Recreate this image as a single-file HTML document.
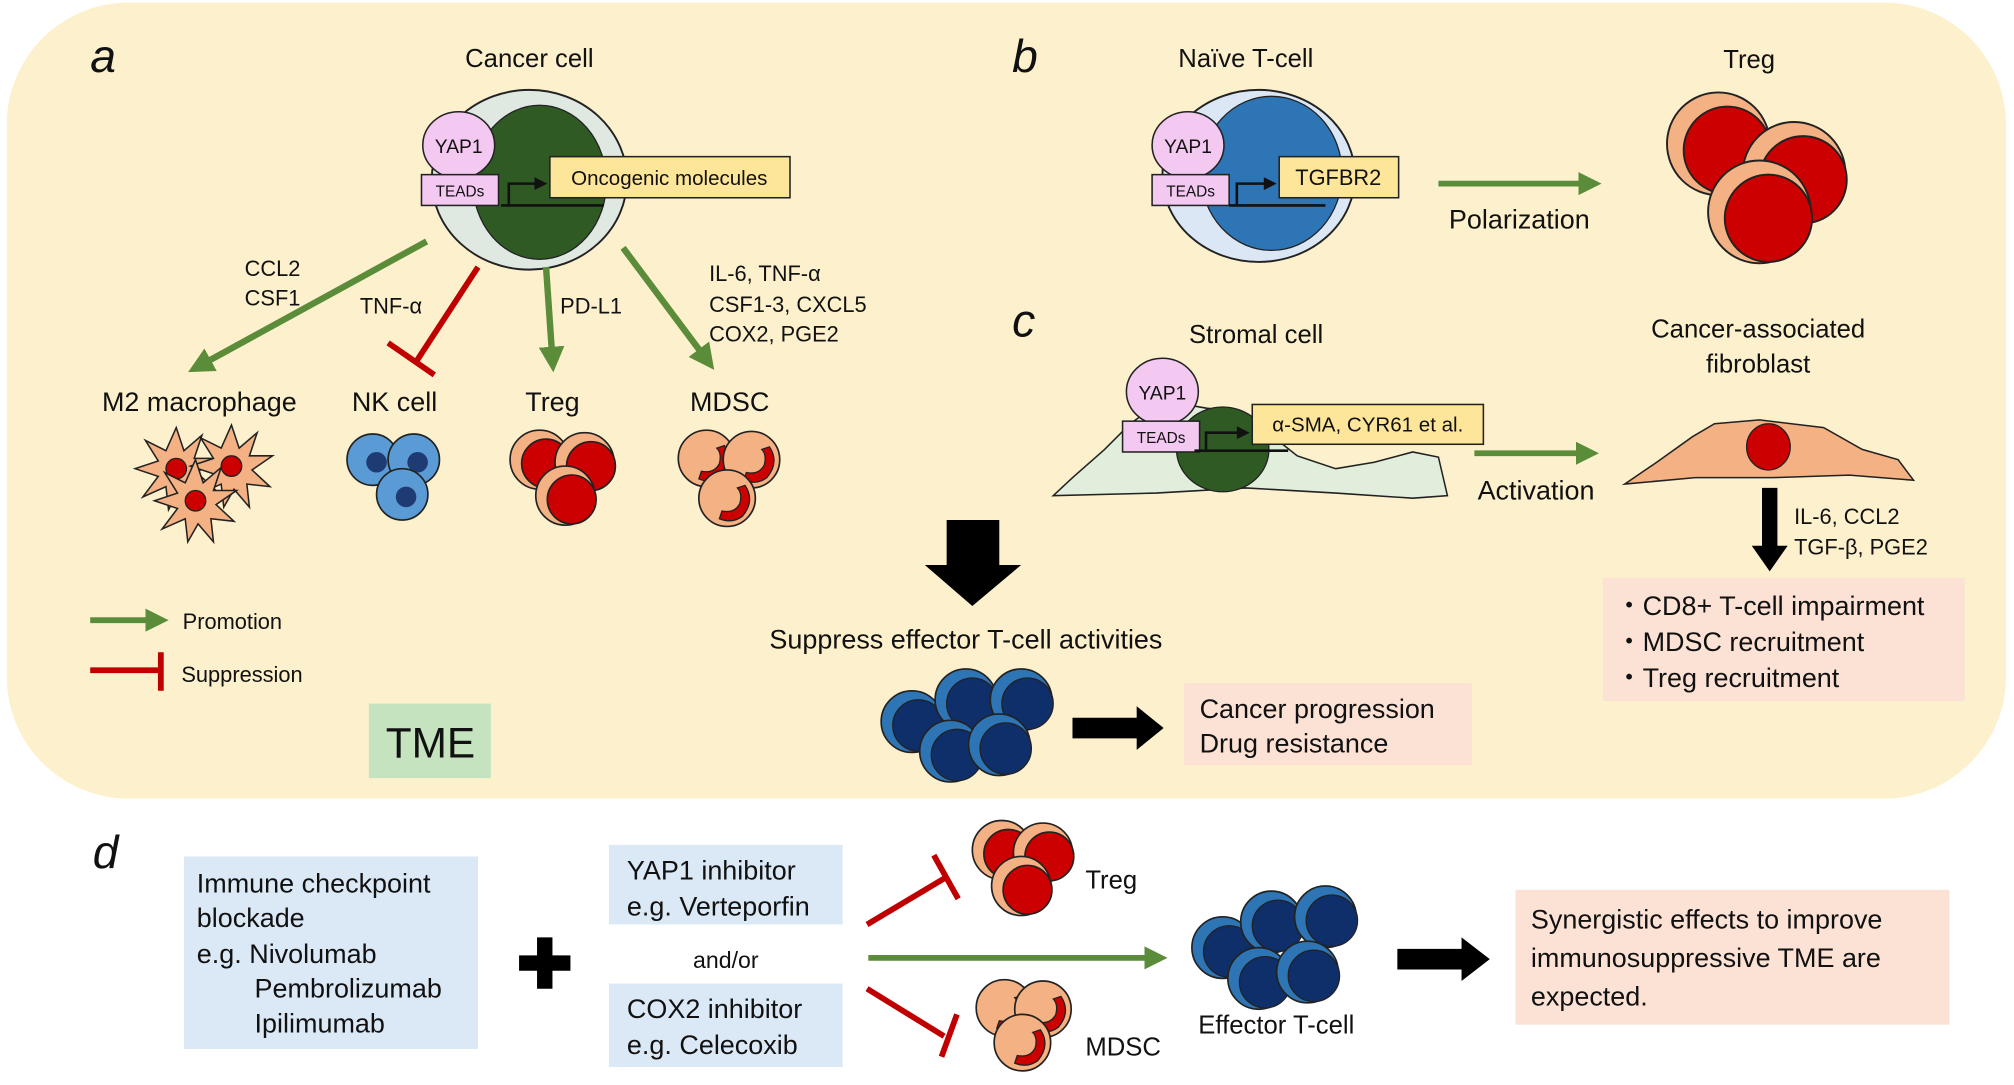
<!DOCTYPE html>
<html><head><meta charset="utf-8"><style>
html,body{margin:0;padding:0;background:#fff}
svg{display:block}
text{font-family:"Liberation Sans Narrow","Liberation Sans",sans-serif;fill:#111}
</style></head><body>
<svg width="2014" height="1085" viewBox="0 0 1568 845" xmlns="http://www.w3.org/2000/svg">
<defs>
<marker id="ga" markerWidth="4" markerHeight="4" refX="2" refY="2" orient="auto" markerUnits="strokeWidth"><path d="M0,0 L4,2 L0,4 Z" fill="#5b8c3a"/></marker>
<g id="treg"><circle r="23" fill="#f4b183" stroke="#222" stroke-width="1.3"/><circle cx="5" cy="3" r="19" fill="#cc0000" stroke="#222" stroke-width="1.3"/></g>
<g id="treg2"><circle r="40" fill="#f4b183" stroke="#222" stroke-width="1.5"/><circle cx="7" cy="5" r="34" fill="#cc0000" stroke="#222" stroke-width="1.5"/></g>
<g id="mdsc"><circle r="22" fill="#f4b183" stroke="#222" stroke-width="1.3"/><path d="M14,-10 Q22,2 12,14 Q4,20 -6,16 L-4,10 Q6,12 10,4 Q12,-4 8,-8 Z" fill="#cc0000" stroke="#222" stroke-width="1"/></g>
<g id="nk"><circle r="20" fill="#5b9bd5" stroke="#222" stroke-width="1.3"/><circle cx="3" cy="2" r="8" fill="#1f3b73"/></g>
<g id="eff"><circle r="24" fill="#2e75b6" stroke="#222" stroke-width="1.3"/><circle cx="5" cy="3" r="20" fill="#0f2f6b" stroke="#222" stroke-width="1"/></g>
<g id="mac"><polygon points="0,-32 6,-14 20,-26 14,-8 32,-8 16,3 30,16 12,14 14,32 2,18 -6,32 -8,14 -26,22 -14,6 -32,0 -14,-6 -24,-22 -8,-14" fill="#f4b183" stroke="#222" stroke-width="1.2"/><circle r="8" fill="#cc0000" stroke="#222" stroke-width="1"/></g>
</defs>
<rect x="5" y="2" width="1557" height="620" rx="95" fill="#fdf0cc"/>

<!-- panel a -->
<text x="70" y="56" font-size="36" font-style="italic" font-family="Liberation Sans">a</text>
<text x="412" y="52" font-size="20" text-anchor="middle">Cancer cell</text>
<ellipse cx="412" cy="140" rx="76" ry="70" fill="#dfe9e1" stroke="#222" stroke-width="1.5"/>
<ellipse cx="420" cy="142" rx="52" ry="60" fill="#2f5a24" stroke="#222" stroke-width="1"/>
<ellipse cx="357" cy="113" rx="28" ry="26" fill="#f3c8f1" stroke="#222" stroke-width="1.2"/>
<text x="357" y="119" font-size="15" text-anchor="middle">YAP1</text>
<rect x="328" y="136" width="60" height="24" fill="#f3c8f1" stroke="#222" stroke-width="1.2"/>
<text x="358" y="153" font-size="12" text-anchor="middle">TEADs</text>
<path d="M390,160 H470 M396,160 V143 H418" stroke="#111" stroke-width="2" fill="none"/>
<path d="M416,138 L426,143 L416,148 Z" fill="#111"/>
<rect x="428" y="122" width="187" height="32" fill="#fde699" stroke="#222" stroke-width="1.2"/>
<text x="521" y="144" font-size="16" text-anchor="middle">Oncogenic molecules</text>

<g stroke="#5b8c3a" stroke-width="5" fill="none">
<line x1="332" y1="188" x2="155" y2="285" marker-end="url(#ga)"/>
<line x1="425" y1="208" x2="430" y2="280" marker-end="url(#ga)"/>
<line x1="485" y1="193" x2="550" y2="280" marker-end="url(#ga)"/>
</g>
<g stroke="#c00000" stroke-width="4.5">
<line x1="372" y1="208" x2="323" y2="283"/>
<line x1="302" y1="267" x2="338" y2="292"/>
</g>
<g font-size="17">
<text x="212" y="215" text-anchor="middle">CCL2</text>
<text x="212" y="238" text-anchor="middle">CSF1</text>
<text x="280" y="244">TNF-α</text>
<text x="436" y="244">PD-L1</text>
<text x="552" y="219">IL-6, TNF-α</text>
<text x="552" y="243">CSF1-3, CXCL5</text>
<text x="552" y="266">COX2, PGE2</text>
</g>
<g font-size="21" text-anchor="middle">
<text x="155" y="320">M2 macrophage</text>
<text x="307" y="320">NK cell</text>
<text x="430" y="320">Treg</text>
<text x="568" y="320">MDSC</text>
</g>
<use href="#mac" x="137" y="365"/><use href="#mac" x="180" y="363"/><use href="#mac" x="152" y="390"/>
<use href="#nk" x="290" y="358"/><use href="#nk" x="322" y="358"/><use href="#nk" x="313" y="385"/>
<use href="#treg" x="420" y="358"/><use href="#treg" x="455" y="360"/><use href="#treg" x="440" y="386"/>
<use href="#mdsc" x="550" y="357"/><use href="#mdsc" x="585" y="358"/><use href="#mdsc" x="566" y="388"/>

<path d="M737,405 H778 V440 H795 L757,472 L720,440 H737 Z" fill="#000"/>

<line x1="70" y1="483" x2="122" y2="483" stroke="#5b8c3a" stroke-width="4.5" marker-end="url(#ga)"/>
<text x="142" y="490" font-size="17">Promotion</text>
<g stroke="#c00000" stroke-width="4.5"><line x1="70" y1="522" x2="125" y2="522"/><line x1="125" y1="508" x2="125" y2="538"/></g>
<text x="141" y="531" font-size="17">Suppression</text>
<rect x="287" y="548" width="95" height="58" fill="#c5e3bf"/>
<text x="335" y="590" font-size="33" text-anchor="middle" font-family="Liberation Sans">TME</text>

<text x="752" y="505" font-size="21" text-anchor="middle">Suppress effector T-cell activities</text>
<use href="#eff" x="710" y="562"/><use href="#eff" x="752" y="545"/><use href="#eff" x="795" y="545"/><use href="#eff" x="740" y="585"/><use href="#eff" x="778" y="580"/>
<path d="M835,559 H885 V550 L906,567 L885,584 V575 H835 Z" fill="#000"/>
<rect x="922" y="532" width="224" height="64" fill="#fbe2d5"/>
<text x="934" y="559" font-size="21">Cancer progression</text>
<text x="934" y="586" font-size="21">Drug resistance</text>

<!-- panel b -->
<text x="788" y="56" font-size="36" font-style="italic" font-family="Liberation Sans">b</text>
<text x="970" y="52" font-size="20" text-anchor="middle">Naïve T-cell</text>
<ellipse cx="980" cy="137" rx="75" ry="67" fill="#dbe7f4" stroke="#222" stroke-width="1.5"/>
<ellipse cx="990" cy="135" rx="55" ry="60" fill="#2e75b6" stroke="#222" stroke-width="1"/>
<ellipse cx="925" cy="113" rx="28" ry="26" fill="#f3c8f1" stroke="#222" stroke-width="1.2"/>
<text x="925" y="119" font-size="15" text-anchor="middle">YAP1</text>
<rect x="897" y="136" width="60" height="24" fill="#f3c8f1" stroke="#222" stroke-width="1.2"/>
<text x="927" y="153" font-size="12" text-anchor="middle">TEADs</text>
<path d="M957,160 H1032 M963,160 V143 H986" stroke="#111" stroke-width="2" fill="none"/>
<path d="M984,138 L994,143 L984,148 Z" fill="#111"/>
<rect x="996" y="122" width="93" height="32" fill="#fde699" stroke="#222" stroke-width="1.2"/>
<text x="1042" y="144" font-size="17" text-anchor="middle">TGFBR2</text>
<line x1="1120" y1="143" x2="1238" y2="143" stroke="#5b8c3a" stroke-width="4.5" marker-end="url(#ga)"/>
<text x="1183" y="178" font-size="21" text-anchor="middle" font-family="Liberation Sans">Polarization</text>
<text x="1362" y="53" font-size="20" text-anchor="middle">Treg</text>
<use href="#treg2" x="1338" y="112"/><use href="#treg2" x="1397" y="135"/><use href="#treg2" x="1370" y="165"/>

<!-- panel c -->
<text x="788" y="262" font-size="36" font-style="italic" font-family="Liberation Sans">c</text>
<text x="978" y="267" font-size="20" text-anchor="middle">Stromal cell</text>
<path d="M820,386 L835,372 L860,350 L880,330 L905,312 L940,318 L965,320 L985,335 L1010,355 L1040,365 L1070,360 L1100,352 L1120,356 L1127,386 L1100,388 L1040,384 L970,380 L900,384 Z" fill="#e1eedc" stroke="#222" stroke-width="1.2"/>
<ellipse cx="952" cy="350" rx="36" ry="33" fill="#2f5a24" stroke="#222" stroke-width="1"/>
<ellipse cx="905" cy="305" rx="28" ry="26" fill="#f3c8f1" stroke="#222" stroke-width="1.2"/>
<text x="905" y="311" font-size="15" text-anchor="middle">YAP1</text>
<rect x="874" y="328" width="60" height="24" fill="#f3c8f1" stroke="#222" stroke-width="1.2"/>
<text x="904" y="345" font-size="12" text-anchor="middle">TEADs</text>
<path d="M930,351 H1003 M939,351 V337 H965" stroke="#111" stroke-width="2" fill="none"/>
<path d="M963,332 L973,337 L963,342 Z" fill="#111"/>
<rect x="975" y="315" width="180" height="31" fill="#fde699" stroke="#222" stroke-width="1.2"/>
<text x="1065" y="336" font-size="16" text-anchor="middle">α-SMA, CYR61 et al.</text>
<line x1="1148" y1="353" x2="1236" y2="353" stroke="#5b8c3a" stroke-width="4.5" marker-end="url(#ga)"/>
<text x="1196" y="389" font-size="21" text-anchor="middle" font-family="Liberation Sans">Activation</text>
<text x="1369" y="263" font-size="20" text-anchor="middle">Cancer-associated</text>
<text x="1369" y="290" font-size="20" text-anchor="middle">fibroblast</text>
<path d="M1265,377 L1290,360 L1318,340 L1335,330 L1370,327 L1420,333 L1450,350 L1478,358 L1490,374 L1440,370 L1380,372 L1320,372 Z" fill="#f4b183" stroke="#222" stroke-width="1.2"/>
<ellipse cx="1377" cy="348" rx="17" ry="18" fill="#cc0000" stroke="#222" stroke-width="1"/>
<path d="M1372,380 H1384 V425 H1392 L1378,445 L1364,425 H1372 Z" fill="#000"/>
<text x="1397" y="408" font-size="17">IL-6, CCL2</text>
<text x="1397" y="432" font-size="17">TGF-β, PGE2</text>
<rect x="1248" y="450" width="282" height="96" fill="#fbe2d5"/>
<g font-size="21"><text x="1258" y="479">・CD8+ T-cell impairment</text><text x="1258" y="507">・MDSC recruitment</text><text x="1258" y="535">・Treg recruitment</text></g>

<!-- panel d -->
<text x="72" y="676" font-size="36" font-style="italic" font-family="Liberation Sans">d</text>
<rect x="143" y="667" width="229" height="150" fill="#dbe8f5"/>
<g font-size="21"><text x="153" y="695">Immune checkpoint</text><text x="153" y="722">blockade</text><text x="153" y="750">e.g. Nivolumab</text><text x="198" y="777">Pembrolizumab</text><text x="198" y="804">Ipilimumab</text></g>
<path d="M418,730 H430 V744 H444 V756 H430 V770 H418 V756 H404 V744 H418 Z" fill="#000"/>
<rect x="474" y="658" width="182" height="62" fill="#dbe8f5"/>
<text x="488" y="685" font-size="21">YAP1 inhibitor</text><text x="488" y="713" font-size="21">e.g. Verteporfin</text>
<text x="565" y="754" font-size="18" text-anchor="middle">and/or</text>
<rect x="474" y="766" width="182" height="65" fill="#dbe8f5"/>
<text x="488" y="793" font-size="21">COX2 inhibitor</text><text x="488" y="821" font-size="21">e.g. Celecoxib</text>
<g stroke="#c00000" stroke-width="4.5">
<line x1="675" y1="720" x2="737" y2="683"/><line x1="727" y1="666" x2="746" y2="700"/>
<line x1="675" y1="770" x2="735" y2="807"/><line x1="745" y1="790" x2="733" y2="823"/>
</g>
<line x1="676" y1="746" x2="900" y2="746" stroke="#5b8c3a" stroke-width="4.5" marker-end="url(#ga)"/>
<use href="#treg" x="780" y="662"/><use href="#treg" x="812" y="664"/><use href="#treg" x="795" y="690"/>
<text x="845" y="692" font-size="20">Treg</text>
<use href="#mdsc" x="782" y="785"/><use href="#mdsc" x="812" y="786"/><use href="#mdsc" x="796" y="812"/>
<text x="845" y="822" font-size="20">MDSC</text>
<use href="#eff" x="952" y="738"/><use href="#eff" x="990" y="718"/><use href="#eff" x="1032" y="714"/><use href="#eff" x="980" y="762"/><use href="#eff" x="1018" y="757"/>
<text x="933" y="805" font-size="20">Effector T-cell</text>
<path d="M1088,739 H1138 V730 L1160,747 L1138,764 V755 H1088 Z" fill="#000"/>
<rect x="1180" y="693" width="338" height="105" fill="#fbe2d5"/>
<g font-size="21"><text x="1192" y="723">Synergistic effects to improve</text><text x="1192" y="753">immunosuppressive TME are</text><text x="1192" y="783">expected.</text></g>
</svg>
</body></html>
